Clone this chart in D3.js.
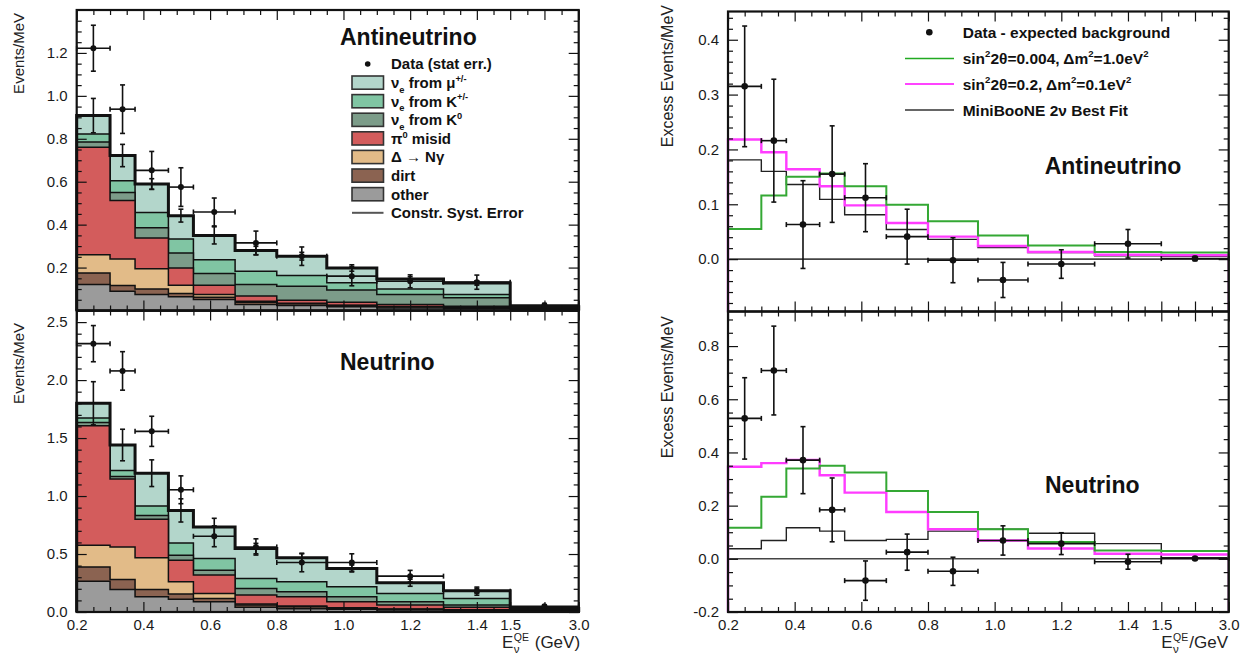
<!DOCTYPE html>
<html><head><meta charset="utf-8">
<script src="https://cdn.jsdelivr.net/npm/d3@7"></script>
<style>body{margin:0;background:#fff}svg{display:block;font-family:'Liberation Sans',Arial,Helvetica,sans-serif}text{white-space:pre}</style>
</head><body><svg id="c" width="1243" height="654"></svg>
<script>
// ---------- DATA ----------
const binEdges   = [0.2,0.3,0.375,0.475,0.55,0.675,0.8,0.95,1.1,1.3,1.5,3.0];
const binCenters = [0.25,0.3375,0.425,0.5125,0.6125,0.7375,0.875,1.025,1.2,1.4,2.25];
const xTickValues = [0.2,0.4,0.6,0.8,1.0,1.2,1.4,1.5,3.0];
const xTickLabels = ["0.2","0.4","0.6","0.8","1.0","1.2","1.4","1.5","3.0"];

// Antineutrino backgrounds (Events/MeV), bottom -> top
const antiOther = [0.121,0.090,0.074,0.064,0.051,0.028,0.023,0.017,0.012,0.009,0.003];
const antiDirt  = [0.054,0.026,0.026,0.015,0.011,0.011,0.008,0.006,0.005,0.003,0.001];
const antiDelta = [0.085,0.124,0.094,0.039,0.012,0.004,0.003,0.002,0.002,0.002,0.001];
const antiPi0   = [0.500,0.272,0.144,0.080,0.044,0.024,0.014,0.014,0.009,0.006,0.002];
const antiK0    = [0.025,0.038,0.047,0.070,0.054,0.054,0.065,0.056,0.046,0.039,0.004];
const antiKpm   = [0.037,0.055,0.072,0.065,0.065,0.062,0.050,0.034,0.026,0.015,0.002];
const antiMu    = [0.086,0.117,0.132,0.109,0.113,0.096,0.090,0.069,0.047,0.054,0.004];
const antiSyst  = [0.080,0.052,0.025,0.030,0.040,0.020,0.018,0.015,0.010,0.010,0.003];
const antiData    = [1.222,0.938,0.653,0.575,0.459,0.315,0.253,0.160,0.136,0.132,0.025];
const antiDataErr = [0.107,0.113,0.088,0.090,0.065,0.055,0.043,0.045,0.030,0.033,0.008];

// Neutrino backgrounds (Events/MeV), bottom -> top
const nuOther = [0.266,0.195,0.132,0.109,0.089,0.040,0.029,0.023,0.017,0.011,0.005];
const nuDirt  = [0.123,0.086,0.063,0.046,0.028,0.020,0.017,0.008,0.006,0.006,0.002];
const nuDelta = [0.187,0.280,0.272,0.106,0.043,0.009,0.006,0.006,0.003,0.003,0.001];
const nuPi0   = [1.031,0.587,0.332,0.186,0.158,0.077,0.080,0.052,0.034,0.020,0.004];
const nuK0    = [0.028,0.020,0.034,0.043,0.043,0.057,0.043,0.043,0.029,0.020,0.004];
const nuKpm   = [0.037,0.052,0.081,0.106,0.100,0.086,0.086,0.086,0.071,0.057,0.006];
const nuMu    = [0.128,0.220,0.283,0.280,0.272,0.258,0.206,0.157,0.092,0.066,0.008];
const nuSyst  = [0.186,0.136,0.115,0.100,0.075,0.045,0.035,0.030,0.030,0.020,0.005];
const nuData    = [2.314,2.079,1.558,1.054,0.653,0.561,0.427,0.427,0.309,0.180,0.050];
const nuDataErr = [0.156,0.166,0.130,0.120,0.090,0.070,0.080,0.075,0.050,0.035,0.010];

// Excess (data - expected background) and oscillation predictions
const antiExcess    = [0.315,0.216,0.063,0.155,0.112,0.041,-0.002,-0.038,-0.009,0.028,0.001];
const antiExcessErr = [0.110,0.112,0.080,0.088,0.062,0.050,0.041,0.032,0.026,0.026,0.004];
const antiGreen     = [0.055,0.116,0.150,0.156,0.133,0.099,0.069,0.043,0.025,0.013,0.012];
const antiMagenta   = [0.218,0.195,0.164,0.133,0.098,0.066,0.041,0.024,0.013,0.008,0.007];
const antiBestFit   = [0.181,0.160,0.136,0.109,0.081,0.054,0.036,0.021,0.012,0.006,0.005];

const nuExcess    = [0.528,0.708,0.371,0.184,-0.082,0.025,-0.047,0.069,0.057,-0.011,0.001];
const nuExcessErr = [0.153,0.167,0.126,0.120,0.074,0.068,0.053,0.055,0.041,0.028,0.004];
const nuGreen     = [0.117,0.233,0.340,0.350,0.325,0.255,0.176,0.111,0.063,0.031,0.029];
const nuMagenta   = [0.346,0.360,0.372,0.314,0.249,0.176,0.111,0.069,0.039,0.019,0.016];
const nuBestFit   = [0.038,0.069,0.117,0.104,0.069,0.073,0.104,0.111,0.096,0.057,0.004];

// ---------- STYLE ----------
const bkgColors = ["#9b9b9b","#8b6351","#e2bb88","#d35c5c","#7c9c89","#80c5a3","#b3d6cb"]; // other..mu
const cGreen = "#34a834", cMagenta = "#ff3cff", cBest = "#222";
const INK = "#111";

const svg = d3.select("#c");
const g = svg.append("g");

const xL = d3.scaleLinear().domain([0.2,1.5,3.0]).range([76.7,510.2,578.7]);
const xR = d3.scaleLinear().domain([0.2,1.5,3.0]).range([728,1161.3,1228.7]);
const yLT = d3.scaleLinear().domain([0,1.4]).range([310.5,10]);
const yLB = d3.scaleLinear().domain([0,2.6]).range([612,310.5]);
const yRT = d3.scaleLinear().domain([-0.0955,0.4515]).range([311.5,11.5]);
const yRB = d3.scaleLinear().domain([-0.2,0.93]).range([612,311.5]);

const xMajor = [0.2,0.4,0.6,0.8,1.0,1.2,1.4,1.5,2.25,3.0];
const xMinor = d3.range(0.25,1.5,0.05).filter(v=>!xMajor.some(m=>Math.abs(m-v)<1e-6) && v<1.499).concat([1.875,2.625]);

function stepPts(x,y,vals){
  const pts=[];
  vals.forEach((v,i)=>{pts.push([x(binEdges[i]),y(v)]);pts.push([x(binEdges[i+1]),y(v)]);});
  return pts;
}
function stepArea(x,y,vals){
  const base=y(0); const pts=stepPts(x,y,vals);
  return "M"+x(binEdges[0])+","+base+"L"+pts.map(p=>p.join(",")).join("L")+"L"+x(binEdges[binEdges.length-1])+","+base+"Z";
}
function stepLine(x,y,vals,base){
  const pts=stepPts(x,y,vals);
  return "M"+x(binEdges[0])+","+base+"L"+pts.map(p=>p.join(",")).join("L")+"L"+x(binEdges[binEdges.length-1])+","+base;
}

function errPoints(x,y,vals,errs,r,capH){
  const gg=g.append("g").attr("stroke",INK).attr("stroke-width",1.6).attr("fill",INK);
  vals.forEach((v,i)=>{
    const cx=x(binCenters[i]), cy=y(v), xa=x(binEdges[i]), xb=x(binEdges[i+1]);
    const ya=y(v+errs[i]), yb=y(v-errs[i]);
    gg.append("line").attr("x1",xa).attr("x2",xb).attr("y1",cy).attr("y2",cy);
    gg.append("line").attr("x1",cx).attr("x2",cx).attr("y1",ya).attr("y2",yb);
    gg.append("line").attr("x1",cx-capH).attr("x2",cx+capH).attr("y1",ya).attr("y2",ya);
    gg.append("line").attr("x1",cx-capH).attr("x2",cx+capH).attr("y1",yb).attr("y2",yb);
    gg.append("line").attr("x1",xa).attr("x2",xa).attr("y1",cy-capH).attr("y2",cy+capH);
    gg.append("line").attr("x1",xb).attr("x2",xb).attr("y1",cy-capH).attr("y2",cy+capH);
    gg.append("circle").attr("cx",cx).attr("cy",cy).attr("r",r).attr("stroke","none");
  });
}

function stackPanel(x,y,comps,syst,data,dataErr){
  const n=binCenters.length; let run=new Array(n).fill(0); const cum=[];
  comps.forEach(c=>{run=run.map((v,i)=>v+c[i]);cum.push(run.slice());});
  for(let k=cum.length-1;k>=0;k--){
    g.append("path").attr("d",stepArea(x,y,cum[k])).attr("fill",bkgColors[k]).attr("stroke",INK).attr("stroke-width",1.5).attr("stroke-linejoin","miter");
  }
  const tot=cum[cum.length-1];
  g.append("path").attr("d",stepLine(x,y,tot,y(0))).attr("fill","none").attr("stroke",INK).attr("stroke-width",3);
  const sg=g.append("g").attr("stroke",INK).attr("stroke-width",1.6);
  tot.forEach((v,i)=>{
    const cx=x(binCenters[i]), ya=y(v+syst[i]), yb=y(v-syst[i]);
    sg.append("line").attr("x1",cx).attr("x2",cx).attr("y1",ya).attr("y2",yb);
    sg.append("line").attr("x1",cx-2.5).attr("x2",cx+2.5).attr("y1",ya).attr("y2",ya);
    sg.append("line").attr("x1",cx-2.5).attr("x2",cx+2.5).attr("y1",yb).attr("y2",yb);
  });
  errPoints(x,y,data,dataErr,3,2.5);
}

function excessPanel(x,y,best,mag,grn,ex,exErr){
  const base=y.range()[0];
  g.append("line").attr("x1",x.range()[0]).attr("x2",x.range()[2]).attr("y1",y(0)).attr("y2",y(0)).attr("stroke","#444").attr("stroke-width",1.6);
  g.append("path").attr("d",stepLine(x,y,best,base)).attr("fill","none").attr("stroke",cBest).attr("stroke-width",1.4);
  g.append("path").attr("d",stepLine(x,y,mag,base)).attr("fill","none").attr("stroke",cMagenta).attr("stroke-width",2.4);
  g.append("path").attr("d",stepLine(x,y,grn,base)).attr("fill","none").attr("stroke",cGreen).attr("stroke-width",2);
  errPoints(x,y,ex,exErr,3.3,2.5);
}

function frameAxes(x,y,o){
  const yb=y.range()[0], yt=y.range()[1], xl=x.range()[0], xr=x.range()[2];
  const clean=s=>{s.select(".domain").remove(); s.attr("color",INK); s.selectAll("line").attr("stroke-width",1.2);};
  const lab=d=>{const i=xTickValues.findIndex(v=>Math.abs(v-d)<1e-9);return (o.xLabels&&i>=0)?xTickLabels[i]:"";};
  const bx=g.append("g").attr("transform",`translate(0,${yb})`).call(d3.axisBottom(x).tickValues(xMajor).tickSizeInner(-10).tickSizeOuter(0).tickPadding(7.5).tickFormat(lab)).call(clean);
  bx.selectAll("text").attr("font-size",15).attr("font-family","'Liberation Sans',Arial,sans-serif").attr("fill","#1a1a1a");
  g.append("g").attr("transform",`translate(0,${yb})`).call(d3.axisBottom(x).tickValues(xMinor).tickSizeInner(-5).tickSizeOuter(0).tickFormat(()=>"")).call(clean);
  g.append("g").attr("transform",`translate(0,${yt})`).call(d3.axisTop(x).tickValues(xMajor).tickSizeInner(-10).tickSizeOuter(0).tickFormat(()=>"")).call(clean);
  g.append("g").attr("transform",`translate(0,${yt})`).call(d3.axisTop(x).tickValues(xMinor).tickSizeInner(-5).tickSizeOuter(0).tickFormat(()=>"")).call(clean);
  const ly=g.append("g").attr("transform",`translate(${xl},0)`).call(d3.axisLeft(y).tickValues(o.yMajor).tickSizeInner(-10).tickSizeOuter(0).tickPadding(9).tickFormat(d=>o.yLabels.includes(d)?d.toFixed(1):"")).call(clean);
  ly.selectAll("text").attr("font-size",15).attr("font-family","'Liberation Sans',Arial,sans-serif").attr("fill","#1a1a1a");
  g.append("g").attr("transform",`translate(${xl},0)`).call(d3.axisLeft(y).tickValues(o.yMinor).tickSizeInner(-5).tickSizeOuter(0).tickFormat(()=>"")).call(clean);
  g.append("g").attr("transform",`translate(${xr},0)`).call(d3.axisRight(y).tickValues(o.yMajor).tickSizeInner(-10).tickSizeOuter(0).tickFormat(()=>"")).call(clean);
  g.append("g").attr("transform",`translate(${xr},0)`).call(d3.axisRight(y).tickValues(o.yMinor).tickSizeInner(-5).tickSizeOuter(0).tickFormat(()=>"")).call(clean);
  g.append("rect").attr("x",xl).attr("y",yt).attr("width",xr-xl).attr("height",yb-yt).attr("fill","none").attr("stroke",INK).attr("stroke-width",2.2);
}

function minorRange(a,b,s,major){return d3.range(a,b+s/2,s).map(v=>+v.toFixed(4)).filter(v=>!major.some(m=>Math.abs(m-v)<1e-6));}

// ---------- PANELS ----------
stackPanel(xL,yLT,[antiOther,antiDirt,antiDelta,antiPi0,antiK0,antiKpm,antiMu],antiSyst,antiData,antiDataErr);
stackPanel(xL,yLB,[nuOther,nuDirt,nuDelta,nuPi0,nuK0,nuKpm,nuMu],nuSyst,nuData,nuDataErr);
excessPanel(xR,yRT,antiBestFit,antiMagenta,antiGreen,antiExcess,antiExcessErr);
excessPanel(xR,yRB,nuBestFit,nuMagenta,nuGreen,nuExcess,nuExcessErr);

const mLT=[0,0.2,0.4,0.6,0.8,1.0,1.2];
frameAxes(xL,yLT,{xLabels:false,yMajor:mLT,yLabels:[0.2,0.4,0.6,0.8,1.0,1.2],yMinor:minorRange(0.05,1.35,0.05,mLT)});
const mLB=[0,0.5,1.0,1.5,2.0,2.5];
frameAxes(xL,yLB,{xLabels:true,yMajor:mLB,yLabels:mLB,yMinor:minorRange(0.1,2.5,0.1,mLB)});
const mRT=[0,0.1,0.2,0.3,0.4];
frameAxes(xR,yRT,{xLabels:false,yMajor:mRT,yLabels:mRT,yMinor:minorRange(-0.08,0.44,0.02,mRT)});
const mRB=[-0.2,0,0.2,0.4,0.6,0.8];
frameAxes(xR,yRB,{xLabels:true,yMajor:mRB,yLabels:mRB,yMinor:minorRange(-0.15,0.9,0.05,mRB)});

// ---------- TEXT ----------
function rich(parent,x,y,parts,size,weight){
  const t=parent.append("text").attr("x",x).attr("y",y).attr("font-size",size).attr("font-weight",weight||"bold").attr("fill",INK);
  let cur=0;
  parts.forEach(p=>{
    let target=0, fs=size;
    if(p.sub){target=size*0.3;fs=size*0.62;}
    if(p.sup){target=-size*0.42;fs=size*0.62;}
    t.append("tspan").attr("dy",target-cur).attr("font-size",fs).text(p.t);
    cur=target;
  });
  return t;
}
function bigLabel(x,y,s){g.append("text").attr("x",x).attr("y",y).attr("font-size",23).attr("font-weight","bold").attr("fill",INK).text(s);}
bigLabel(340,45,"Antineutrino");
bigLabel(340,370,"Neutrino");
bigLabel(1044.7,174,"Antineutrino");
bigLabel(1045,493,"Neutrino");

// left legend
const legLeft=[
 {type:"dot",parts:[{t:"Data (stat err.)"}]},
 {type:"box",k:6,parts:[{t:"ν"},{t:"e",sub:1},{t:"\u00a0from μ"},{t:"+/-",sup:1}]},
 {type:"box",k:5,parts:[{t:"ν"},{t:"e",sub:1},{t:"\u00a0from K"},{t:"+/-",sup:1}]},
 {type:"box",k:4,parts:[{t:"ν"},{t:"e",sub:1},{t:"\u00a0from K"},{t:"0",sup:1}]},
 {type:"box",k:3,parts:[{t:"π"},{t:"0",sup:1},{t:"\u00a0misid"}]},
 {type:"box",k:2,parts:[{t:"Δ → Nγ"}]},
 {type:"box",k:1,parts:[{t:"dirt"}]},
 {type:"box",k:0,parts:[{t:"other"}]},
 {type:"line",parts:[{t:"Constr. Syst. Error"}]}
];
legLeft.forEach((e,i)=>{
  const cy=64+i*18.6;
  if(e.type==="dot") g.append("circle").attr("cx",367.7).attr("cy",cy).attr("r",2.8).attr("fill",INK);
  if(e.type==="box") g.append("rect").attr("x",352).attr("y",cy-6.6).attr("width",31.5).attr("height",13.2).attr("fill",bkgColors[e.k]).attr("stroke","#333").attr("stroke-width",1.6);
  if(e.type==="line") g.append("line").attr("x1",352).attr("x2",383.5).attr("y1",cy).attr("y2",cy).attr("stroke","#555").attr("stroke-width",2);
  rich(g,391,cy+5.4,e.parts,15,"bold");
});

// right legend
const legRight=[
 {type:"dot",parts:[{t:"Data - expected background"}]},
 {type:"line",c:"#22aa22",w:1.6,parts:[{t:"sin"},{t:"2",sup:1},{t:"2θ=0.004, Δm"},{t:"2",sup:1},{t:"=1.0eV"},{t:"2",sup:1}]},
 {type:"line",c:"#ff44ff",w:2.2,parts:[{t:"sin"},{t:"2",sup:1},{t:"2θ=0.2, Δm"},{t:"2",sup:1},{t:"=0.1eV"},{t:"2",sup:1}]},
 {type:"line",c:"#333",w:1.6,parts:[{t:"MiniBooNE 2ν Best Fit"}]}
];
const legRY=[32.3,58.5,84,110];
legRight.forEach((e,i)=>{
  const cy=legRY[i];
  if(e.type==="dot") g.append("circle").attr("cx",929.3).attr("cy",cy).attr("r",3.3).attr("fill",INK);
  else g.append("line").attr("x1",905).attr("x2",954).attr("y1",cy).attr("y2",cy).attr("stroke",e.c).attr("stroke-width",e.w);
  rich(g,962.7,cy+5.5,e.parts,15.5,"bold");
});

// axis titles
function yTitle(x,yEnd,s,fs){g.append("text").attr("transform",`translate(${x},${yEnd}) rotate(-90)`).attr("text-anchor","end").attr("font-size",fs).attr("fill","#222").text(s);}
yTitle(24,13,"Events/MeV",15);
yTitle(24,323,"Events/MeV",15);
yTitle(673,5,"Excess Events/MeV",16);
yTitle(673,316,"Excess Events/MeV",16);

function eTitle(xPos,yBase,suffix,alignRight){
  const gg=g.append("g").attr("fill","#222");
  const e=gg.append("text").attr("x",0).attr("y",0).attr("font-size",17).text("E");
  const wE=e.node().getComputedTextLength();
  const q=gg.append("text").attr("x",wE+0.5).attr("y",-7).attr("font-size",10.5).text("QE");
  const nu=gg.append("text").attr("x",wE+0.5).attr("y",4.5).attr("font-size",11.5).text("ν");
  const wS=Math.max(q.node().getComputedTextLength(),nu.node().getComputedTextLength());
  const s=gg.append("text").attr("x",wE+wS+1.5).attr("y",0).attr("font-size",17).text(suffix);
  const tot=wE+wS+1.5+s.node().getComputedTextLength();
  gg.attr("transform",`translate(${alignRight?xPos-tot:xPos},${yBase})`);
}
eTitle(502,648,"\u00a0(GeV)",false);
eTitle(1228,648,"/GeV",true);
</script></body></html>
